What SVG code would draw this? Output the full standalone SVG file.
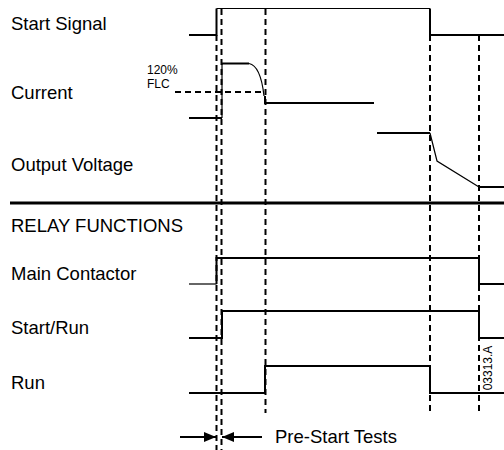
<svg xmlns="http://www.w3.org/2000/svg" width="504" height="450" viewBox="0 0 504 450">
<style>
.lbl{font-family:"Liberation Sans",Arial,sans-serif;font-size:18.5px;fill:#000}
.sm{font-family:"Liberation Sans",Arial,sans-serif;font-size:12px;fill:#000}
.sig{fill:none;stroke:#000;stroke-width:2}
.thin{fill:none;stroke:#000;stroke-width:1.2}
.dash{fill:none;stroke:#000;stroke-width:2;stroke-dasharray:6,4}
</style>
<defs>
<marker id="ah" markerWidth="12" markerHeight="10" refX="12" refY="5" orient="auto" markerUnits="userSpaceOnUse">
<path d="M0,0 L12,5 L0,10 Z" fill="#000"/>
</marker>
</defs>
<rect width="504" height="450" fill="#fff"/>
<g id="labels">
<text class="lbl" x="11" y="30">Start Signal</text>
<text class="lbl" x="11" y="99">Current</text>
<text class="sm" x="147" y="74">120%</text>
<text class="sm" x="147" y="88">FLC</text>
<text class="lbl" x="11" y="171">Output Voltage</text>
<text class="lbl" x="11" y="232">RELAY FUNCTIONS</text>
<text class="lbl" x="11" y="280">Main Contactor</text>
<text class="lbl" x="11" y="334">Start/Run</text>
<text class="lbl" x="11" y="389">Run</text>
<text class="lbl" x="275" y="443">Pre-Start Tests</text>
<text class="sm" font-size="11" transform="translate(492,368) rotate(-90)" text-anchor="middle">03313.A</text>
</g>
<g id="guides">
<path class="dash" d="M216.5,35 V450"/>
<path class="dash" d="M221.5,9 V450"/>
<path class="dash" d="M265.5,9 V413"/>
<path class="dash" d="M430,35 V414"/>
<path class="dash" d="M479,35 V415"/>
<path class="dash" d="M175,92 H265"/>
</g>
<g id="start-signal">
<path class="sig" d="M189,35 H216.5 V8.5"/>
<path class="thin" d="M216.5,8.5 H430"/>
<path class="sig" d="M430,8.5 V35 H504"/>
</g>
<g id="current">
<path class="sig" d="M189,118 H222"/>
<path class="thin" d="M222,118 V63"/>
<path class="sig" d="M222,63.5 H249"/>
<path class="thin" d="M249,63.5 C257,65 262,78 264,96"/>
<path class="sig" d="M265,96 V103 H374"/>
</g>
<g id="output-voltage">
<path class="sig" d="M377,133 H430"/>
<path class="thin" d="M430,133 L437,161 L479,187"/>
<path class="sig" d="M479,187 H504"/>
</g>
<g id="separator">
<path d="M10,203 H504" stroke="#000" stroke-width="3"/>
</g>
<g id="main-contactor">
<path class="thin" d="M189,284 H216.5"/>
<path class="sig" d="M216.5,284 V258 H479 V284 H504"/>
</g>
<g id="start-run">
<path class="sig" d="M189,338 H222 V311 H479 V338 H504"/>
</g>
<g id="run">
<path class="sig" d="M189,393 H265 V366 H430 V393 H504"/>
</g>
<g id="connectors">
<path class="sig" d="M180,437 H216" marker-end="url(#ah)"/>
<path class="sig" d="M262,437 H222" marker-end="url(#ah)"/>
</g>
</svg>
